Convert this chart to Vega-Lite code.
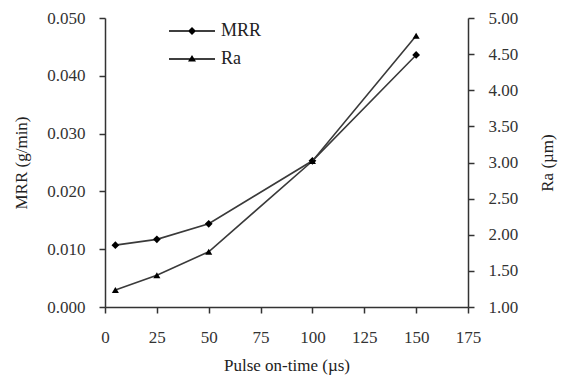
{
  "$schema": "https://vega.github.io/schema/vega-lite/v6.json",
  "width": 363,
  "height": 289,
  "autosize": {"type": "none"},
  "padding": {"left": 105, "top": 18, "right": 93, "bottom": 72},
  "background": "white",
  "config": {
    "view": {"stroke": null},
    "font": "Liberation Serif",
    "axis": {
      "grid": false,
      "domainColor": "#333",
      "domainWidth": 1.5,
      "tickColor": "#333",
      "tickWidth": 1.5,
      "tickSize": 6,
      "labelFont": "Liberation Serif",
      "labelFontSize": 17,
      "labelColor": "#333",
      "titleFont": "Liberation Serif",
      "titleFontSize": 17,
      "titleFontWeight": "normal",
      "titleColor": "#222"
    }
  },
  "data": {
    "values": [
      {"t": 5, "MRR": 0.0107, "Ra": 1.235},
      {"t": 25, "MRR": 0.0117, "Ra": 1.44},
      {"t": 50, "MRR": 0.0144, "Ra": 1.765},
      {"t": 100, "MRR": 0.0253, "Ra": 3.02},
      {"t": 150, "MRR": 0.0436, "Ra": 4.755}
    ]
  },
  "encoding": {
    "x": {
      "field": "t",
      "type": "quantitative",
      "scale": {"domain": [0, 175], "nice": false, "zero": false},
      "axis": {"values": [0, 25, 50, 75, 100, 125, 150, 175], "title": "Pulse on-time (µs)", "labelPadding": 16, "titlePadding": 12, "labelFlush": false}
    }
  },
  "layer": [
    {
      "encoding": {
        "y": {
          "field": "MRR",
          "type": "quantitative",
          "scale": {"domain": [0, 0.05], "nice": false},
          "axis": {"orient": "left", "values": [0, 0.01, 0.02, 0.03, 0.04, 0.05], "format": ".3f", "title": "MRR (g/min)", "labelPadding": 14, "titlePadding": 16}
        }
      },
      "layer": [
        {"mark": {"type": "line", "color": "#3a3a3a", "strokeWidth": 1.6}},
        {"mark": {"type": "point", "filled": true, "color": "black", "opacity": 1, "size": 60, "shape": "diamond"}},
        {
          "transform": [{"filter": "datum.t < 0"}],
          "mark": {"type": "point", "filled": true, "color": "black", "opacity": 1},
          "encoding": {
            "shape": {
              "datum": "MRR",
              "scale": {"domain": ["MRR", "Ra"], "range": ["M-4.6,-0.13H4.6V0.13H-4.6Z M0,-0.8L0.8,0L0,0.8L-0.8,0Z", "M-4.6,-0.13H4.6V0.13H-4.6Z M0,-0.8L0.8,0.5L-0.8,0.5Z"]},
              "legend": {
                "title": null,
                "orient": "none",
                "legendX": 60,
                "legendY": 4,
                "symbolSize": 100,
                "symbolOffset": 18,
                "labelOffset": 20,
                "labelFont": "Liberation Serif",
                "labelFontSize": 18,
                "labelColor": "#222",
                "rowPadding": 10,
                "symbolFillColor": "black"
              }
            }
          }
        }
      ]
    },
    {
      "encoding": {
        "y": {
          "field": "Ra",
          "type": "quantitative",
          "scale": {"domain": [1, 5], "nice": false, "zero": false},
          "axis": {"orient": "right", "values": [1, 1.5, 2, 2.5, 3, 3.5, 4, 4.5, 5], "format": ".2f", "title": "Ra (µm)", "titleAngle": 270, "titleBaseline": "top", "labelPadding": 14, "titlePadding": 22}
        }
      },
      "layer": [
        {"mark": {"type": "line", "color": "#3a3a3a", "strokeWidth": 1.6}},
        {"mark": {"type": "point", "filled": true, "color": "black", "opacity": 1, "size": 50, "shape": "triangle-up"}}
      ]
    }
  ],
  "resolve": {"scale": {"y": "independent"}}
}
